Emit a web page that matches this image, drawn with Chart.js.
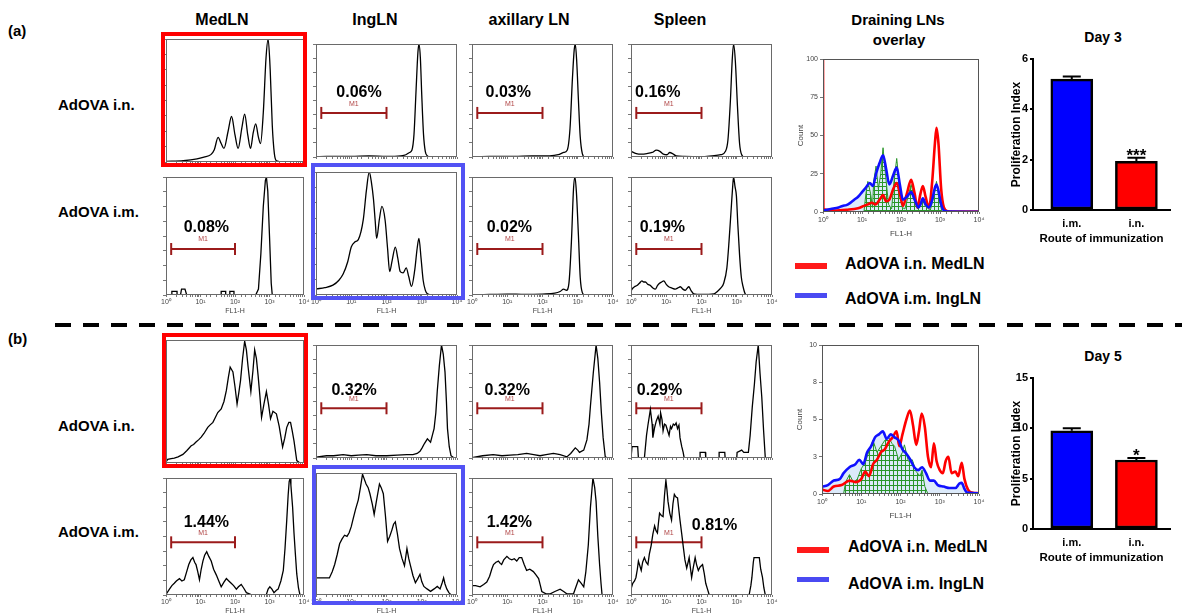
<!DOCTYPE html>
<html>
<head>
<meta charset="utf-8">
<title>OT-I proliferation in draining LNs</title>
<script src="https://cdn.jsdelivr.net/npm/chart.js@4.4.1/dist/chart.umd.min.js"></script>
<style>
  body { margin: 0; background: #fff; font-family: "Liberation Sans", Arial, sans-serif; }
  #fig { position: relative; width: 1182px; height: 613px; overflow: hidden; background: #fff; }
  #fig canvas { position: absolute; }
  .lbl { position: absolute; font-weight: bold; color: #000; white-space: nowrap; transform: translate(-50%, -50%); }
  .lbl.left { transform: translate(0, -50%); }
  .box { position: absolute; box-sizing: border-box; border: 4px solid; z-index: 3; }
  .key { position: absolute; width: 32px; }
</style>
</head>
<body>
<div id="fig">
  <div class="lbl left" style="left:8px;top:30px;font-size:15px">(a)</div>
  <div class="lbl left" style="left:8px;top:338px;font-size:15px">(b)</div>

  <div class="lbl" style="left:222px;top:20px;font-size:16px">MedLN</div>
  <div class="lbl" style="left:375px;top:20px;font-size:16px">IngLN</div>
  <div class="lbl" style="left:529px;top:20px;font-size:16px">axillary LN</div>
  <div class="lbl" style="left:680px;top:20px;font-size:16px">Spleen</div>
  <div class="lbl" style="left:898px;top:19px;font-size:15px">Draining LNs</div>
  <div class="lbl" style="left:899px;top:39px;font-size:15px">overlay</div>
  <div class="lbl" style="left:1103px;top:37px;font-size:14px">Day 3</div>
  <div class="lbl" style="left:1103px;top:356px;font-size:14px">Day 5</div>

  <div class="lbl left" style="left:58px;top:104px;font-size:15px">AdOVA i.n.</div>
  <div class="lbl left" style="left:58px;top:211px;font-size:15px">AdOVA i.m.</div>
  <div class="lbl left" style="left:58px;top:425px;font-size:15px">AdOVA i.n.</div>
  <div class="lbl left" style="left:58px;top:531px;font-size:15px">AdOVA i.m.</div>

  <div class="key" style="left:795px;top:263px;height:6px;background:#ff1a1a"></div>
  <div class="key" style="left:795px;top:293px;height:5px;background:#4a4af2"></div>
  <div class="lbl left" style="left:845px;top:264px;font-size:16px">AdOVA i.n. MedLN</div>
  <div class="lbl left" style="left:845px;top:299px;font-size:16px">AdOVA i.m. IngLN</div>
  <div class="key" style="left:797px;top:547px;height:6px;background:#ff1a1a"></div>
  <div class="key" style="left:797px;top:577px;height:5px;background:#4a4af2"></div>
  <div class="lbl left" style="left:848px;top:547px;font-size:16px">AdOVA i.n. MedLN</div>
  <div class="lbl left" style="left:848px;top:584px;font-size:16px">AdOVA i.m. IngLN</div>

  <svg style="position:absolute;left:0;top:318px" width="1182" height="14">
    <line x1="55" y1="7" x2="1182" y2="7" stroke="#000" stroke-width="4" stroke-dasharray="16 12"/>
  </svg>

  <div class="box" style="left:161px;top:32px;width:146px;height:135px;border-color:#ff0000"></div>
  <div class="box" style="left:311px;top:163px;width:154px;height:137px;border-color:#5252f4"></div>
  <div class="box" style="left:162px;top:333px;width:146px;height:135px;border-color:#ff0000"></div>
  <div class="box" style="left:312px;top:465px;width:153px;height:140px;border-color:#5252f4"></div>
</div>

<script>
// FL1-H histograms: [log10 FL1-H, % of max count]
const aInMed = [[0,0.5],[0.5,1],[0.9,2.5],[1.1,4],[1.3,6],[1.4,10],[1.51,20],[1.6,15],[1.68,11],[1.8,25],[1.9,37],[2.0,22],[2.09,11],[2.2,28],[2.28,39],[2.37,22],[2.45,11],[2.53,24],[2.6,31],[2.68,20],[2.74,15],[2.82,40],[2.9,85],[2.96,100],[3.02,75],[3.08,30],[3.14,7],[3.2,1],[3.4,0],[4,0]];
const aInIng = [[0,0],[0.3,0.5],[1.0,0.5],[1.5,1],[2.0,0.5],[2.4,1],[2.55,2],[2.65,4],[2.72,6],[2.78,20],[2.84,60],[2.89,92],[2.92,100],[2.96,88],[3.0,55],[3.05,20],[3.1,5],[3.16,1],[3.25,0],[4,0]];
const aInAx = [[0,0],[0.5,0.5],[1.2,0.5],[1.7,1],[2.2,1],[2.45,2],[2.6,4],[2.7,6],[2.78,25],[2.85,70],[2.9,95],[2.93,100],[2.97,85],[3.02,50],[3.07,18],[3.13,3],[3.2,0],[4,0]];
const aInSpl = [[0,5],[0.15,3],[0.3,2.5],[0.45,3],[0.6,4],[0.72,6],[0.82,5],[0.92,2.5],[1.02,2],[1.1,4],[1.18,3],[1.28,1],[1.5,0.5],[2.0,0.3],[2.3,1],[2.55,2],[2.68,5],[2.75,15],[2.82,50],[2.87,85],[2.91,100],[2.96,85],[3.02,45],[3.08,12],[3.14,2],[3.22,0],[4,0]];
const aImMed = [[0,0],[0.17,0],[0.17,3],[0.32,3],[0.32,0],[0.42,0],[0.45,5],[0.55,5],[0.6,0],[1.6,0],[1.6,3],[1.73,3],[1.73,0],[1.85,0],[1.85,3],[1.97,3],[1.97,0],[2.6,0],[2.68,5],[2.75,35],[2.82,75],[2.88,97],[2.91,100],[2.95,88],[3.0,50],[3.05,10],[3.08,0],[4,0]];
const aImIng = [[0.02,5],[0.25,6],[0.48,8],[0.65,12],[0.77,17],[0.9,27],[1.0,39],[1.1,43],[1.2,45],[1.34,61],[1.43,85],[1.51,100],[1.57,92],[1.63,78],[1.68,60],[1.72,46],[1.8,62],[1.87,72],[1.96,61],[2.03,38],[2.09,19],[2.16,28],[2.25,39],[2.32,30],[2.39,19],[2.47,18],[2.56,22],[2.63,15],[2.71,7],[2.8,20],[2.87,38],[2.92,46],[2.98,30],[3.04,12],[3.1,4],[3.16,1],[3.3,0],[4,0]];
const aImAx = [[0,0],[0.5,0.5],[1.0,0.8],[1.5,0.5],[2.0,0.8],[2.35,1.5],[2.5,3],[2.6,5],[2.68,4],[2.75,10],[2.82,45],[2.88,90],[2.92,100],[2.96,88],[3.02,50],[3.07,15],[3.13,2],[3.2,0],[4,0]];
const aImSpl = [[0,3],[0.03,5],[0.1,7],[0.17,8],[0.24,10],[0.31,12],[0.36,11],[0.41,11],[0.48,9],[0.55,8],[0.62,6],[0.69,5],[0.75,8],[0.81,10],[0.87,11],[0.93,12],[1.0,9],[1.07,7],[1.15,6],[1.26,5],[1.33,6],[1.4,7],[1.47,5],[1.54,4],[1.6,6],[1.64,7],[1.7,4],[1.78,1],[2.0,0.5],[2.35,1],[2.45,3],[2.55,6],[2.63,10],[2.72,23],[2.78,45],[2.84,72],[2.88,90],[2.91,100],[2.95,92],[2.99,84],[3.03,60],[3.08,34],[3.13,15],[3.18,7],[3.24,1],[3.3,0],[4,0]];

const bInMed = [[0,1],[0.05,3],[0.15,3.5],[0.24,4],[0.35,5],[0.49,7],[0.6,10],[0.73,14],[0.8,15],[0.87,17],[0.95,19],[1.02,21],[1.1,24],[1.21,29],[1.28,31],[1.36,33],[1.43,37],[1.5,41],[1.6,44],[1.68,50],[1.75,59],[1.81,70],[1.86,78],[1.9,76],[1.94,74],[2.0,62],[2.06,48],[2.11,57],[2.16,67],[2.22,85],[2.28,99],[2.33,92],[2.38,78],[2.46,58],[2.52,75],[2.57,92],[2.62,85],[2.67,71],[2.72,55],[2.77,37],[2.84,48],[2.91,58],[2.97,48],[3.03,36],[3.1,42],[3.2,40],[3.28,30],[3.38,13],[3.44,20],[3.5,29],[3.56,33],[3.61,33],[3.66,26],[3.71,18],[3.79,2],[3.88,0],[4,0]];
const bInIng = [[0,0],[0.05,1],[0.3,2],[0.5,2],[0.77,3],[1.0,2],[1.2,2.5],[1.44,3],[1.7,2],[2.01,2],[2.3,2.5],[2.58,3],[2.75,3],[2.87,4],[2.95,6],[3.01,9],[3.08,13],[3.16,17],[3.25,14],[3.3,20],[3.35,26],[3.4,40],[3.44,59],[3.5,82],[3.56,100],[3.61,92],[3.66,76],[3.7,50],[3.73,26],[3.78,10],[3.83,2],[3.92,0],[4,0]];
const bInAx = [[0,0],[0.04,0.5],[0.3,2],[0.6,3],[0.85,2],[1.08,2.5],[1.3,3],[1.55,4],[1.75,3],[1.93,2],[2.1,3],[2.31,4],[2.5,3],[2.69,1],[2.8,4],[2.93,9],[3.0,7],[3.05,5],[3.17,7],[3.26,16],[3.32,30],[3.36,46],[3.44,75],[3.52,100],[3.57,88],[3.62,67],[3.67,40],[3.72,18],[3.78,1],[3.85,0],[4,0]];
const bInSpl = [[0,0],[0.03,10],[0.19,10],[0.21,0],[0.38,0],[0.44,20],[0.48,29],[0.55,43],[0.6,30],[0.62,18],[0.67,27],[0.72,33],[0.77,37],[0.82,30],[0.84,40],[0.88,34],[0.91,24],[0.95,30],[0.99,29],[1.03,25],[1.08,20],[1.12,28],[1.15,26],[1.2,30],[1.24,29],[1.28,31],[1.32,26],[1.36,29],[1.39,18],[1.44,10],[1.48,5],[1.51,0],[1.96,0],[1.96,5],[2.11,5],[2.12,0],[2.5,0],[2.5,5],[2.66,5],[2.67,0],[3.0,0],[3.01,5],[3.14,7],[3.2,5],[3.33,5],[3.38,20],[3.44,45],[3.5,65],[3.55,85],[3.61,100],[3.66,75],[3.71,54],[3.76,25],[3.81,0],[4,0]];
const bImMed = [[0,0.5],[0.1,5],[0.17,8],[0.24,10],[0.3,12],[0.39,14],[0.46,12],[0.53,13],[0.6,20],[0.66,26],[0.72,30],[0.78,32],[0.83,28],[0.87,26],[0.92,20],[0.97,13],[1.02,22],[1.07,29],[1.12,34],[1.18,37],[1.24,33],[1.31,29],[1.38,22],[1.46,17],[1.53,12],[1.6,7],[1.68,11],[1.75,14],[1.82,12],[1.89,10],[1.96,8],[2.04,5],[2.1,7],[2.18,9],[2.25,6],[2.33,2],[2.5,0],[2.8,0],[2.91,0.5],[2.96,5],[3.01,7],[3.07,5],[3.13,2],[3.2,4],[3.25,5],[3.33,12],[3.4,21],[3.45,40],[3.5,64],[3.54,85],[3.57,97],[3.6,100],[3.62,94],[3.67,75],[3.71,53],[3.75,35],[3.79,18],[3.84,6],[3.88,0.5],[4,0]];
const bImIng = [[0.02,14],[0.2,14],[0.38,14],[0.46,19],[0.53,25],[0.6,33],[0.67,42],[0.74,46],[0.81,49],[0.88,48],[0.94,51],[1.0,56],[1.05,62],[1.12,70],[1.2,78],[1.26,88],[1.32,99],[1.37,95],[1.42,91],[1.48,88],[1.53,83],[1.6,74],[1.65,66],[1.72,78],[1.8,91],[1.85,88],[1.91,83],[1.97,65],[2.03,44],[2.09,48],[2.15,53],[2.2,58],[2.25,60],[2.31,50],[2.37,38],[2.44,30],[2.51,24],[2.55,32],[2.58,38],[2.63,30],[2.68,24],[2.75,16],[2.82,10],[2.88,13],[2.95,17],[3.0,11],[3.06,7],[3.15,5],[3.25,3],[3.35,5],[3.44,7],[3.52,5],[3.58,10],[3.62,14],[3.66,9],[3.71,5],[3.77,2],[3.83,0],[4,0]];
const bImAx = [[0,8],[0.1,8],[0.23,7],[0.33,9],[0.42,11],[0.5,16],[0.56,22],[0.61,26],[0.68,28],[0.75,29],[0.8,27],[0.84,26],[0.9,30],[0.99,33],[1.06,31],[1.13,30],[1.2,31],[1.27,29],[1.34,32],[1.41,32],[1.48,26],[1.55,21],[1.64,22],[1.74,20],[1.82,17],[1.89,14],[1.94,8],[1.98,3],[2.1,1],[2.22,1],[2.35,3],[2.5,5],[2.6,3],[2.69,1],[2.88,1],[2.95,7],[3.02,13],[3.1,10],[3.17,7],[3.23,20],[3.3,43],[3.36,75],[3.43,100],[3.48,92],[3.52,80],[3.57,50],[3.62,26],[3.66,10],[3.69,0],[4,0]];
const bImSpl = [[0,5],[0.05,10],[0.1,12],[0.14,15],[0.18,22],[0.21,29],[0.25,25],[0.29,21],[0.33,28],[0.38,32],[0.43,28],[0.48,26],[0.52,35],[0.57,42],[0.62,52],[0.67,59],[0.71,55],[0.75,53],[0.78,62],[0.81,70],[0.86,68],[0.91,67],[0.95,85],[0.99,98],[1.02,90],[1.05,80],[1.1,70],[1.15,64],[1.19,78],[1.23,86],[1.27,84],[1.32,83],[1.36,72],[1.39,64],[1.44,52],[1.48,42],[1.53,30],[1.58,23],[1.62,28],[1.65,32],[1.69,22],[1.72,15],[1.77,24],[1.82,32],[1.86,26],[1.91,21],[1.96,24],[2.03,26],[2.08,18],[2.12,10],[2.17,5],[2.22,0],[3.35,0],[3.4,8],[3.43,15],[3.47,28],[3.49,32],[3.64,32],[3.68,22],[3.73,15],[3.77,6],[3.81,0],[4,0]];

// M1 gate (log10 bounds) and % of cells in it
const gateLo = 0.15, gateHi = 2.0;
const pctAIn = [null, '0.06%', '0.03%', '0.16%'];
const pctAIm = ['0.08%', null, '0.02%', '0.19%'];
const pctBIn = [null, '0.32%', '0.32%', '0.29%'];
const pctBIm = ['1.44%', null, '1.42%', '0.81%'];

// overlays: [log10 FL1-H, count]
const ovAMed = [[0,100],[0.01,2],[0.3,1],[0.6,1.5],[0.9,2.5],[1.05,4],[1.15,5],[1.25,6],[1.35,5],[1.45,8],[1.54,11],[1.62,7],[1.7,8],[1.8,15],[1.89,19],[1.97,12],[2.05,4],[2.15,12],[2.26,21],[2.35,12],[2.42,3],[2.5,12],[2.56,17],[2.63,10],[2.72,3],[2.8,20],[2.87,45],[2.91,55],[2.96,45],[3.03,15],[3.1,3],[3.2,0.5],[3.5,0.3],[4,0.3]];
const ovAIng = [[0,1],[0.2,2],[0.4,3],[0.5,4],[0.6,4.5],[0.7,6],[0.8,8],[0.9,10],[1.0,13],[1.1,16],[1.2,19],[1.28,17],[1.36,25],[1.45,32],[1.54,37],[1.62,28],[1.7,18],[1.8,24],[1.89,29],[1.97,18],[2.05,8],[2.15,10],[2.26,13],[2.35,8],[2.45,3],[2.5,5],[2.56,9],[2.63,5],[2.72,3],[2.8,8],[2.87,16],[2.91,18],[2.96,14],[3.03,5],[3.1,1],[3.2,0.3],[4,0.2]];
const ovAFit = [[0.9,0],[1.05,0],[1.1,12],[1.15,20],[1.22,12],[1.27,3],[1.3,20],[1.36,30],[1.42,15],[1.48,25],[1.54,42],[1.6,25],[1.68,5],[1.76,2],[1.82,20],[1.89,35],[1.95,20],[2.03,3],[2.1,2],[2.18,10],[2.26,18],[2.33,10],[2.42,2],[2.5,5],[2.56,8],[2.62,4],[2.75,1],[2.84,10],[2.91,20],[2.97,10],[3.05,0]];
const ovBMed = [[0,0.3],[0.15,0.2],[0.3,0.5],[0.5,0.6],[0.7,0.9],[0.85,0.8],[1.0,1.0],[1.1,1.5],[1.2,1.2],[1.3,2.0],[1.4,2.3],[1.5,2.8],[1.6,3.0],[1.7,3.5],[1.8,3.8],[1.9,4.2],[1.97,3.2],[2.05,4.0],[2.15,5.0],[2.24,5.6],[2.32,4.6],[2.4,3.3],[2.47,4.2],[2.54,5.4],[2.62,4.5],[2.7,2.5],[2.78,1.8],[2.85,3.4],[2.92,2.2],[3.0,1.6],[3.08,1.4],[3.15,2.2],[3.22,2.5],[3.3,1.4],[3.4,1.5],[3.47,1.2],[3.56,2.1],[3.63,1.0],[3.72,0.3],[3.82,0.1],[4,0.05]];
const ovBIng = [[0,0.5],[0.15,0.6],[0.3,0.9],[0.45,1.0],[0.55,1.4],[0.7,1.8],[0.85,2.0],[0.95,2.3],[1.05,2.0],[1.15,2.8],[1.25,3.2],[1.35,3.8],[1.45,4.0],[1.55,4.2],[1.65,3.7],[1.75,4.0],[1.85,3.8],[1.95,3.6],[2.05,3.0],[2.15,2.7],[2.25,2.3],[2.35,1.8],[2.45,1.6],[2.55,1.8],[2.65,1.4],[2.75,0.9],[2.85,0.9],[2.95,0.6],[3.1,0.5],[3.25,0.4],[3.4,0.4],[3.5,0.7],[3.56,0.75],[3.62,0.4],[3.7,0.1],[4,0.05]];
const ovBFit = [[0.55,0],[0.6,0.8],[0.7,1.3],[0.8,0.8],[0.9,1.0],[1.0,1.7],[1.1,2.1],[1.2,2.9],[1.3,3.6],[1.4,2.8],[1.5,3.2],[1.6,3.6],[1.7,3.8],[1.78,3.4],[1.85,3.2],[1.95,2.3],[2.05,2.8],[2.1,3.3],[2.2,2.2],[2.3,2.3],[2.4,1.5],[2.5,1.2],[2.55,1.6],[2.62,0.5],[2.7,0]];

// proliferation index bars
const routes = ['i.m.', 'i.n.'];
const barColors = ['#0000ff', '#ff0000'];
const day3Mean = [5.2, 1.93];
const day3Sem = [0.1, 0.15];
const day3Sig = ['', '***'];
const day5Mean = [9.75, 6.85];
const day5Sem = [0.25, 0.2];
const day5Sig = ['', '*'];

const FONT = '"Liberation Sans", Arial, sans-serif';
Chart.defaults.font.family = FONT;
Chart.defaults.animation = false;
Chart.defaults.responsive = false;
Chart.defaults.devicePixelRatio = 1;
Chart.defaults.plugins.legend.display = false;
Chart.defaults.plugins.tooltip.enabled = false;

const fig = document.getElementById('fig');
const pow = ['10\u2070', '10\u00b9', '10\u00b2', '10\u00b3', '10\u2074'];
function decadeLabel(v) {
  const e = Math.log10(v), r = Math.round(e);
  return Math.abs(e - r) < 1e-6 ? pow[r] : '';
}
const toXY = pts => pts.map(p => ({ x: Math.pow(10, p[0]), y: p[1] }));

function addCanvas(left, top, w, h) {
  const c = document.createElement('canvas');
  c.width = w; c.height = h;
  c.style.left = left + 'px'; c.style.top = top + 'px';
  c.style.width = w + 'px'; c.style.height = h + 'px';
  fig.insertBefore(c, fig.querySelector('.box'));
  return c;
}

const framePlugin = {
  id: 'frame',
  afterDatasetsDraw(chart, args, opts) {
    const a = chart.chartArea, ctx = chart.ctx;
    ctx.save();
    ctx.strokeStyle = opts.color || '#777';
    ctx.lineWidth = 1;
    ctx.strokeRect(Math.round(a.left) + 0.5, Math.round(a.top) + 0.5, Math.round(a.right - a.left) - 1, Math.round(a.bottom - a.top) - 1);
    ctx.restore();
  }
};

const gateTextPlugin = {
  id: 'gateText',
  afterDatasetsDraw(chart, args, o) {
    if (!o.pct) return;
    const xs = chart.scales.x, ys = chart.scales.y, ctx = chart.ctx;
    ctx.save();
    ctx.textAlign = 'center';
    ctx.textBaseline = 'middle';
    ctx.fillStyle = '#000';
    ctx.font = 'bold 16px ' + FONT;
    ctx.fillText(o.pct, xs.getPixelForValue(Math.pow(10, o.px)), ys.getPixelForValue(o.py));
    ctx.fillStyle = '#b04444';
    ctx.font = '7px ' + FONT;
    ctx.fillText('M1', xs.getPixelForValue(Math.pow(10, (gateLo + gateHi) / 2)), ys.getPixelForValue(o.gate + 8));
    ctx.restore();
  }
};

function histogram(p) {
  const padX = 12;
  const xh = p.labels ? 20 : 3;
  const cv = addCanvas(p.L - 4 - padX, p.T - 3, p.R - p.L + 4 + padX * 2, p.B - p.T + 3 + xh);
  const datasets = [{
    data: toXY(p.curve), borderColor: '#000', borderWidth: 1.3, pointRadius: 0, fill: false,
    tension: 0, cubicInterpolationMode: p.smooth ? 'monotone' : 'default'
  }];
  if (p.pct) {
    datasets.push({
      data: [{ x: Math.pow(10, gateLo), y: p.gate }, { x: Math.pow(10, gateHi), y: p.gate }],
      borderColor: '#9b1b1b', borderWidth: 2, pointStyle: 'line', rotation: 90,
      pointRadius: 6, pointBorderWidth: 2, pointBorderColor: '#9b1b1b'
    });
  }
  new Chart(cv, {
    type: 'line',
    data: { datasets },
    plugins: [framePlugin, gateTextPlugin],
    options: {
      events: [],
      layout: { padding: { left: padX, right: padX, top: 3, bottom: 0 } },
      plugins: {
        frame: { color: '#6a6a6a' },
        gateText: { pct: p.pct, px: p.px, py: p.py, gate: p.gate }
      },
      scales: {
        x: {
          type: 'logarithmic', min: 1, max: 10000,
          border: { display: false },
          grid: { drawOnChartArea: false, tickLength: 2, color: '#777' },
          ticks: { display: p.labels, autoSkip: false, maxRotation: 0, font: { size: 7 }, color: '#444', padding: 1, callback: decadeLabel },
          title: { display: p.labels, text: 'FL1-H', font: { size: 7 }, color: '#444', padding: 0 },
          afterFit: s => { s.height = xh; s.paddingLeft = 0; s.paddingRight = 0; }
        },
        y: {
          min: 0, max: 100,
          border: { display: false },
          grid: { drawOnChartArea: false, tickLength: 3, color: '#777' },
          ticks: { display: false, stepSize: 12.5 },
          afterFit: s => { s.width = 4; s.paddingTop = 0; s.paddingBottom = 0; }
        }
      }
    }
  });
}

// panel frames (plot areas) in page pixels
const cols = [[166, 304], [316, 457], [472, 613], [631, 772]];
const rows = [
  { T: 39, B: 162, labels: false, curves: [aInMed, aInIng, aInAx, aInSpl], pct: pctAIn, gate: 39, py: 57, px: [0, 1.22, 1.03, 0.76], smooth: true },
  { T: 172, B: 295, labels: true, curves: [aImMed, aImIng, aImAx, aImSpl], pct: pctAIm, gate: 39, py: 57, px: [1.17, 0, 1.06, 0.89], smooth: true },
  { T: 340, B: 463, labels: false, curves: [bInMed, bInIng, bInAx, bInSpl], pct: pctBIn, gate: 44, py: 60, px: [0, 1.08, 1.0, 0.81], smooth: false },
  { T: 473, B: 595, labels: true, curves: [bImMed, bImIng, bImAx, bImSpl], pct: pctBIm, gate: 45, py: 62, px: [1.17, 0, 1.06, 2.37], smooth: false }
];
rows.forEach(r => {
  cols.forEach((c, i) => {
    const smooth = r.smooth && r.curves[i] !== aImMed;
    histogram({
      L: c[0], R: c[1], T: r.T, B: r.B, labels: r.labels, curve: r.curves[i], smooth,
      pct: r.pct[i], gate: r.gate, px: r.px[i], py: (r.pct[i] === '0.81%') ? 59 : r.py
    });
  });
});

function hatch(cv, color, vertical, step) {
  const p = document.createElement('canvas');
  p.width = vertical ? 4 : 8; p.height = step;
  const g = p.getContext('2d');
  g.strokeStyle = color; g.lineWidth = 1;
  g.beginPath();
  g.moveTo(0, 0.5); g.lineTo(p.width, 0.5);
  g.moveTo(0.5, 0); g.lineTo(0.5, p.height);
  g.stroke();
  return cv.getContext('2d').createPattern(p, 'repeat');
}

function overlay(o) {
  const cv = addCanvas(o.L - 33, o.T - 5, o.R - o.L + 33 + 12, o.B - o.T + 5 + 28);
  new Chart(cv, {
    type: 'line',
    data: {
      datasets: [
        { data: toXY(o.ing), borderColor: '#1010ff', borderWidth: 2.6, pointRadius: 0, cubicInterpolationMode: 'monotone', fill: false },
        { data: toXY(o.med), borderColor: '#ff0000', borderWidth: 2.6, pointRadius: 0, cubicInterpolationMode: 'monotone', fill: false },
        { data: toXY(o.fit), borderColor: '#2a962a', borderWidth: 1, pointRadius: 0, tension: 0, fill: 'origin', backgroundColor: hatch(cv, '#2a962a', true, o.hatchStep) },
        { data: toXY(o.ing), borderWidth: 0, pointRadius: 0, cubicInterpolationMode: 'monotone', fill: 'origin', backgroundColor: 'rgba(140,185,240,0.3)' }
      ]
    },
    plugins: [framePlugin],
    options: {
      events: [],
      layout: { padding: { left: 0, right: 12, top: 5, bottom: 0 } },
      plugins: { frame: { color: '#555' } },
      scales: {
        x: {
          type: 'logarithmic', min: 1, max: 10000,
          border: { display: false },
          grid: { drawOnChartArea: false, tickLength: 2, color: '#777' },
          ticks: { autoSkip: false, maxRotation: 0, font: { size: 7 }, color: '#444', padding: 2, callback: decadeLabel },
          title: { display: true, text: 'FL1-H', font: { size: 8 }, color: '#444', padding: { top: 0, bottom: 1 } },
          afterFit: s => { s.height = 28; s.paddingLeft = 0; s.paddingRight = 0; }
        },
        y: {
          min: 0, max: o.ymax,
          border: { display: false },
          grid: { drawOnChartArea: false, tickLength: 3, color: '#777' },
          ticks: { stepSize: o.ystep, font: { size: 7 }, color: '#444', padding: 2, callback: v => Math.round(v) },
          title: { display: true, text: 'Count', font: { size: 8 }, color: '#444', padding: { top: 6, bottom: 0 } },
          afterFit: s => { s.width = 33; s.paddingTop = 0; s.paddingBottom = 0; }
        }
      }
    }
  });
}

overlay({ L: 823, R: 979, T: 59, B: 212, med: ovAMed, ing: ovAIng, fit: ovAFit, ymax: 100, ystep: 25, hatchStep: 4 });
overlay({ L: 822, R: 979, T: 345, B: 494, med: ovBMed, ing: ovBIng, fit: ovBFit, ymax: 10, ystep: 2.5, hatchStep: 5 });

const errorBarPlugin = {
  id: 'errorBars',
  afterDatasetsDraw(chart, args, o) {
    const xs = chart.scales.x, ys = chart.scales.y, ctx = chart.ctx;
    ctx.save();
    ctx.strokeStyle = '#000';
    ctx.lineWidth = 2;
    o.mean.forEach((m, i) => {
      const x = xs.getPixelForValue(i);
      const y0 = ys.getPixelForValue(m);
      const y1 = ys.getPixelForValue(m + o.sem[i]);
      ctx.beginPath();
      ctx.moveTo(x, y0); ctx.lineTo(x, y1);
      ctx.moveTo(x - 9, y1); ctx.lineTo(x + 9, y1);
      ctx.stroke();
      if (o.sig[i]) {
        ctx.fillStyle = '#000';
        ctx.font = 'bold 17px ' + FONT;
        ctx.textAlign = 'center';
        ctx.textBaseline = 'alphabetic';
        ctx.fillText(o.sig[i], x, y1 + 3);
      }
    });
    ctx.restore();
  }
};

function barChart(top, mean, sem, sig, ymax, ystep) {
  const cv = addCanvas(995, top, 187, 9 + 151 + 41);
  new Chart(cv, {
    type: 'bar',
    data: {
      datasets: [{
        data: mean.map((m, i) => ({ x: i, y: m })),
        backgroundColor: barColors, borderColor: '#000', borderWidth: 2.5,
        borderSkipped: false, barThickness: 42
      }]
    },
    plugins: [errorBarPlugin],
    options: {
      events: [],
      layout: { padding: { left: 0, right: 12, top: 9, bottom: 0 } },
      plugins: { errorBars: { mean, sem, sig } },
      scales: {
        x: {
          type: 'linear', min: -0.6, max: 1.52, offset: false,
          border: { color: '#000', width: 2 },
          grid: { display: false, drawTicks: false },
          afterBuildTicks: s => { s.ticks = routes.map((r, i) => ({ value: i })); },
          ticks: { font: { size: 11, weight: 'bold' }, color: '#000', padding: 7, callback: v => routes[v] },
          title: { display: true, text: 'Route of immunization', font: { size: 11.5, weight: 'bold' }, color: '#000', padding: { top: 0, bottom: 5 } },
          afterFit: s => { s.height = 41; s.paddingLeft = 0; s.paddingRight = 0; }
        },
        y: {
          min: 0, max: ymax,
          border: { color: '#000', width: 2 },
          grid: { drawOnChartArea: false, tickLength: 3, color: '#000', lineWidth: 2 },
          ticks: { stepSize: ystep, font: { size: 11, weight: 'bold' }, color: '#000', padding: 2 },
          title: { display: true, text: 'Proliferation Index', font: { size: 12, weight: 'bold' }, color: '#000', padding: { top: 14, bottom: 0 } },
          afterFit: s => { s.width = 38; s.paddingTop = 0; s.paddingBottom = 0; }
        }
      }
    }
  });
}

barChart(50, day3Mean, day3Sem, day3Sig, 6, 2);
barChart(369, day5Mean, day5Sem, day5Sig, 15, 5);
</script>
</body>
</html>
